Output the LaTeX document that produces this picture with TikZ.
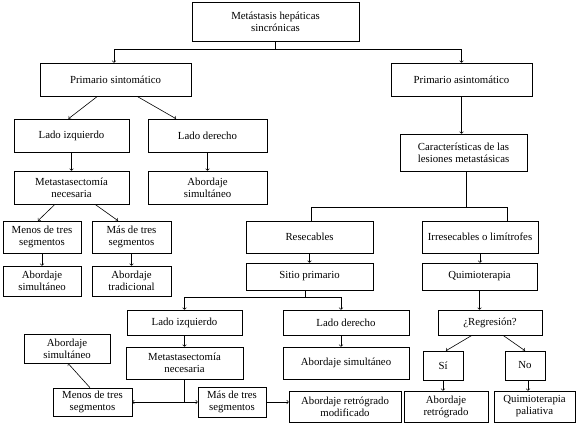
\documentclass[tikz,border=0pt]{standalone}
\usepackage{fontspec}
\setmainfont{Liberation Serif}
\usetikzlibrary{arrows}
\tikzset{box/.style = {shape=rectangle,draw,align=center,inner sep=1pt,font=\fontsize{10.8}{12}\selectfont}}
\tikzset{size/.style 2 args = {minimum width=#1pt,minimum height=#2pt}}
\tikzset{edge/.style = {->,> = to}}

\begin{document}
\begin{tikzpicture}[x=1pt,y=-1pt,line width=0.6pt]
            \useasboundingbox (0,0) rectangle (577,424);
            \node[box,size={167}{39}] (a) at (275.5,21.5) {Metástasis hepáticas\\sincrónicas};
            \node[box,size={151}{33}] (b1) at (115.5,79.5) {Primario sintomático};
            \draw[edge] (a.south) -- ++(0,8) -| ([xshift=-1.5pt]b1.north);
            \node[box,size={141}{33}] (b2) at (461.5,79.5) {Primario asintomático};
            \draw[edge] (a.south) -- ++(0,8) -| (b2.north);
            % primario sintomatico
            \node[box,size={115}{33}] (c1) at (71.5,135.5) {Lado izquierdo};
            \draw[edge] ([xshift=-18pt]b1.south) -- ([xshift=-3pt]c1.north);
            \node[box,size={119}{33}] (c2) at (207.5,135.5) {Lado derecho};
            \draw[edge] ([xshift=21.5pt]b1.south) -- ([xshift=-31.5pt]c2.north);
            \node[box,size={115}{33}] (d1) at (71.5,187.5) {Metastasectomía\\necesaria};
            \draw[edge] (c1) -- (d1);
            \node[box,size={119}{33}] (d2) at (207.5,187.5) {Abordaje\\simultáneo};
            \draw[edge] (c2) -- (d2);
            \node[box,size={78}{32}] (e1) at (42,237) {Menos de tres\\segmentos};
            \draw[edge] ([xshift=-16.5pt]d1.south) -- ([xshift=-4pt]e1.north);
            \node[box,size={79}{32}] (e2) at (131.5,237) {Más de tres\\segmentos};
            \draw[edge] ([xshift=23.5pt]d1.south) -- ([xshift=-13.5pt]e2.north);
            \node[box,size={78}{30}] (f1) at (42,281) {Abordaje\\simultáneo};
            \draw[edge] (e1) -- (f1);
            \node[box,size={79}{30}] (f2) at (131.5,281) {Abordaje\\tradicional};
            \draw[edge] (e2) -- (f2);
            % primario asintomatico
            \node[box,size={127}{37}] (g) at (463.5,152.5) {Características de las\\lesiones metastásicas};
            \draw[edge] (b2.south) -- (b2.south |- g.north);
            \node[box,size={127}{32}] (h1) at (309.5,237) {Resecables};
            \draw ([xshift=3pt]g.south) -- ++(0,36) -| ([xshift=1.5pt]h1.north);
            \node[box,size={116}{32}] (h2) at (480,237) {Irresecables o limítrofes};
            \draw ([xshift=3pt]g.south) -- ++(0,36) -| ([xshift=27pt]h2.north);
            \node[box,size={127}{27}] (i1) at (309.5,276.5) {Sitio primario};
            \draw[edge] (h1) -- (i1);
            \node[box,size={115}{27}] (i2) at (479.5,276.5) {Quimioterapia};
            \draw[edge] (h2.south) -- (h2.south |- i2.north);
            \node[box,size={115}{25}] (j1) at (184.5,322.5) {Lado izquierdo};
            \draw[edge] ([xshift=-4.5pt]i1.south) -- ++(0,7) -| (j1.north);
            \node[box,size={126}{25}] (j2) at (346,322.5) {Lado derecho};
            \draw[edge] ([xshift=-4.5pt]i1.south) -- ++(0,7) -| ([xshift=-5pt]j2.north);
            \node[box,size={117}{32}] (k1) at (184.5,363) {Metastasectomía\\necesaria};
            \draw[edge] (j1) -- (k1);
            \node[box,size={126}{32}] (k2) at (346,363) {Abordaje simultáneo};
            \draw[edge] ([xshift=-5pt]j2.south) -- ([xshift=-5pt]k2.north);
            \node[box,size={79}{28}] (l1) at (92.5,402) {Menos de tres\\segmentos};
            \node[box,size={68}{30}] (l2) at (232,402) {Más de tres\\segmentos};
            \coordinate (m) at (k1.south |- l1.east);
            \draw (k1.south) -- (m);
            \draw[edge] (m) -- (l1.east);
            \draw[edge] (m) -- (l2.west);
            \node[box,size={86}{29}] (n) at (67,348.5) {Abordaje\\simultáneo};
            \draw[edge] ([xshift=-2.5pt]l1.north) -- ([xshift=1pt]n.south);
            \node[box,size={112}{31}] (o) at (345,406.5) {Abordaje retrógrado\\modificado};
            \draw[edge] (l2.east) -- (l2.east -| o.west);
            \node[box,size={104}{25}] (p) at (490,322.5) {¿Regresión?};
            \draw[edge] (i2.south) -- (i2.south |- p.north);
            \node[box,size={40}{29}] (q1) at (443,365.5) {Sí};
            \draw[edge] ([xshift=-18pt]p.south) -- ([xshift=3pt]q1.north);
            \node[box,size={40}{29}] (q2) at (525,365.5) {No};
            \draw[edge] ([xshift=13pt]p.south) -- (q2.north);
            \node[box,size={84}{31}] (r1) at (446,406.5) {Abordaje\\retrógrado};
            \draw[edge] (q1.south) -- (q1.south |- r1.north);
            \node[box,size={81}{31}] (r2) at (534.5,406.5) {Quimioterapia\\paliativa};
            \draw[edge] ([xshift=3pt]q2.south) -- ([xshift=3pt]q2.south |- r2.north);
        \end{tikzpicture}
\end{document}
